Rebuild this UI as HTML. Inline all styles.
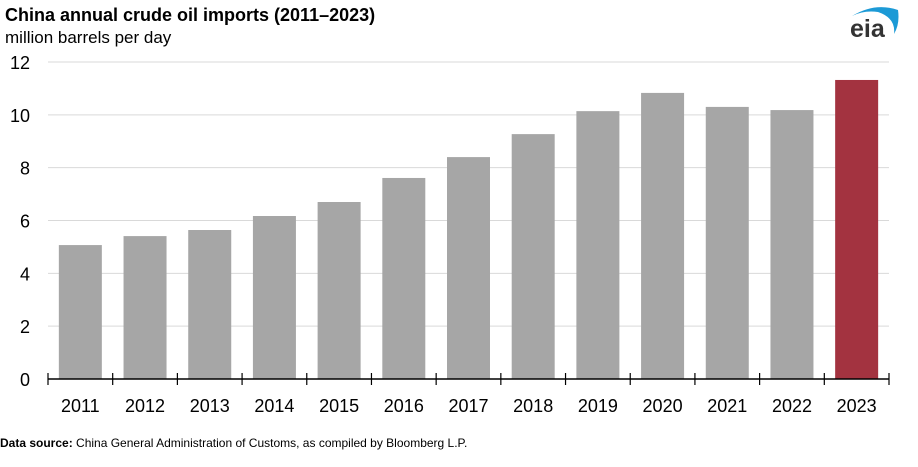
<!DOCTYPE html>
<html><head><meta charset="utf-8"><style>
body{margin:0;background:#fff;width:918px;height:462px;overflow:hidden;font-family:"Liberation Sans",sans-serif}
</style></head><body>
<svg width="918" height="462" xmlns="http://www.w3.org/2000/svg">
<text x="5" y="21" font-size="18" font-weight="bold" fill="#000">China annual crude oil imports (2011–2023)</text>
<text x="5" y="43" font-size="17" fill="#000">million barrels per day</text>
<g>
<path d="M852 16 Q875 2 898 10 Q900 24 894 34 Q896 18 878 12 Q864 10 852 16Z" fill="#1c9ad6"/>
<text x="850" y="37" font-size="25" fill="#333" font-weight="bold">eia</text>
</g>
<g id="grid"></g><g id="bars"></g><g id="axes"></g>
<text x="0" y="447" font-size="12" fill="#000"><tspan font-weight="bold">Data source:</tspan> China General Administration of Customs, as compiled by Bloomberg L.P.</text>
</svg>
<script>
const categories=["2011","2012","2013","2014","2015","2016","2017","2018","2019","2020","2021","2022","2023"];
const values=[5.07,5.41,5.64,6.17,6.70,7.61,8.40,9.27,10.14,10.83,10.30,10.18,11.32];
const yTicks=[0,2,4,6,8,10,12];
const NS="http://www.w3.org/2000/svg";
const x0=48,x1=889,y0=379,yTop=62,yMax=12;
const step=(x1-x0)/categories.length,bw=43;
const y=v=>y0-(v/yMax)*(y0-yTop);
const xc=i=>x0+step*(i+0.5);
function mk(t,a,p){const e=document.createElementNS(NS,t);for(const k in a)e.setAttribute(k,a[k]);p.appendChild(e);return e;}
const g=document.getElementById('grid'),b=document.getElementById('bars'),ax=document.getElementById('axes');
yTicks.forEach(t=>{
 if(t>0){const l=mk('line',{x1:x0,x2:x1,y1:y(t),y2:y(t),stroke:'#d9d9d9','stroke-width':1},g);
 
 }
 const tx=mk('text',{x:30,y:y(t)+7,'font-size':18,'text-anchor':'end',fill:'#000'},ax);tx.textContent=t;
 
 
});
categories.forEach((c,i)=>{
 const r=mk('rect',{x:xc(i)-bw/2,y:y(values[i]),width:bw,height:y0-y(values[i]),fill:i===categories.length-1?'#a33340':'#a6a6a6'},b);
 
 
 const tx=mk('text',{x:xc(i),y:412,'font-size':18,'text-anchor':'middle',fill:'#000'},ax);tx.textContent=c;
 
 
});
const al=mk('line',{x1:x0,x2:x1,y1:y0,y2:y0,stroke:'#000','stroke-width':1.5},ax);


for(let k=0;k<=categories.length;k++){
 const t=mk('line',{x1:x0+k*step,x2:x0+k*step,y1:y0-6,y2:y0+6,stroke:'#000','stroke-width':1.2},ax);
 
 
}
</script>
</body></html>
